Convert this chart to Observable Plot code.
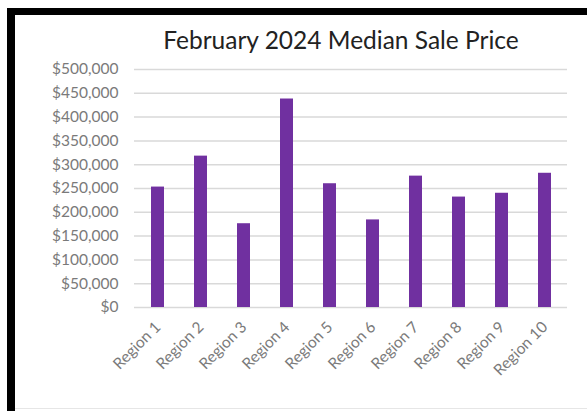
<!DOCTYPE html>
<html>
<head>
<meta charset="utf-8">
<script src="https://cdn.jsdelivr.net/npm/d3@7"></script>
<script src="https://cdn.jsdelivr.net/npm/@observablehq/plot@0.6"></script>
<style>
  html, body { margin: 0; padding: 0; background: #fff; width: 587px; height: 411px; overflow: hidden; }
  #frame { position: absolute; left: 7px; top: 8px; width: 620px; height: 440px;
           border-left: 8px solid #000; border-top: 7px solid #000; background: #fff; }
  #title { position: absolute; left: 0; width: 587px; top: 25px; text-align: center;
           font-family: Lato, sans-serif; font-size: 24.5px; color: #222; padding-left: 95px; box-sizing: border-box; }
  #chart { position: absolute; left: 0; top: 0; }
  #bottomline { position: absolute; left: 15px; top: 408px; width: 572px; height: 1px; background: #e6e6e6; }
</style>
</head>
<body>
<div id="frame"></div>
<div id="bottomline"></div>
<div id="title">February 2024 Median Sale Price</div>
<div id="chart"></div>
<script>
const regions = ["Region 1","Region 2","Region 3","Region 4","Region 5","Region 6","Region 7","Region 8","Region 9","Region 10"];
const prices = [253000, 318000, 176000, 438000, 260000, 184000, 276000, 232000, 240000, 282000];
const yTicks = [0, 50000, 100000, 150000, 200000, 250000, 300000, 350000, 400000, 450000, 500000];

const data = regions.map((r, i) => ({region: r, price: prices[i]}));
const fmt = d3.format("$,");

const plot = Plot.plot({
  width: 587,
  height: 411,
  marginLeft: 134,
  marginRight: 20,
  marginTop: 69,
  marginBottom: 104,
  style: {fontFamily: "Lato, sans-serif", fontSize: "14px", color: "#7f7f7f", background: "transparent"},
  x: {domain: regions, paddingInner: 0.7, paddingOuter: 0.35, label: null},
  y: {domain: [0, 500000], label: null},
  marks: [
    Plot.gridY(yTicks, {stroke: "#d9d9d9", strokeOpacity: 1, strokeWidth: 1.5}),
    Plot.barY(data, {x: "region", y: "price", fill: "#7030a0"}),
    Plot.axisX({tickRotate: -45, tickSize: 0, tickPadding: 17, fontSize: 15.5, fill: "#7a7a7a"}),
    Plot.axisY({ticks: yTicks, tickFormat: fmt, tickSize: 0, tickPadding: 16, fontSize: 15.5, fill: "#7a7a7a"})
  ]
});
document.getElementById("chart").appendChild(plot);
</script>
</body>
</html>
